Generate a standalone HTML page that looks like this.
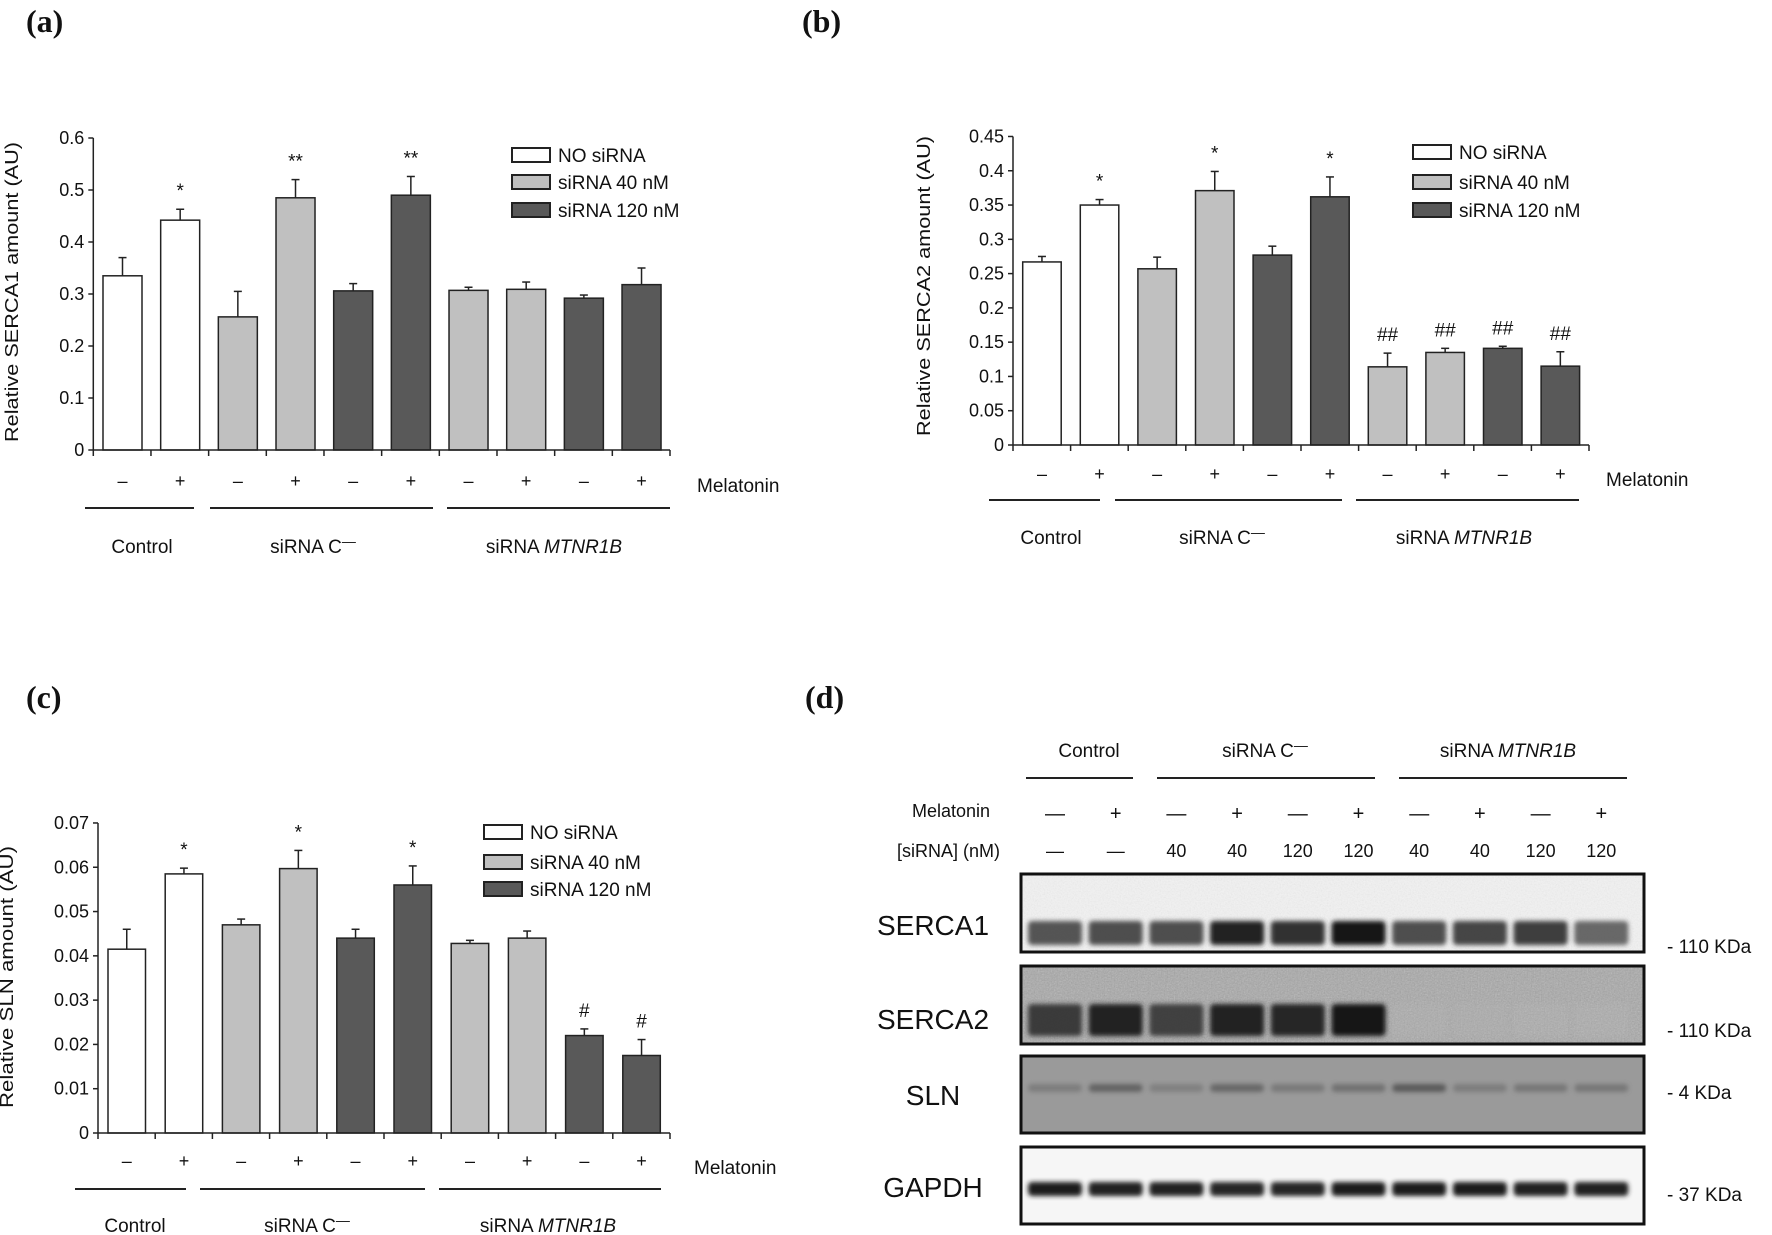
<!DOCTYPE html>
<html><head><meta charset="utf-8"><style>
html,body{margin:0;padding:0;background:#fff;}
svg{display:block;}
text{font-family:"Liberation Sans",sans-serif;fill:#111;}
.lbl{font-family:"Liberation Serif",serif;font-weight:bold;font-size:32px;}
</style></head><body>
<svg id="fig" width="1772" height="1235" viewBox="0 0 1772 1235" xmlns="http://www.w3.org/2000/svg">
<defs>
<filter id="blur2" x="-20%" y="-60%" width="140%" height="220%"><feGaussianBlur stdDeviation="2.5"/></filter>
<filter id="noise" x="0" y="0" width="100%" height="100%"><feTurbulence type="fractalNoise" baseFrequency="0.7" numOctaves="2" seed="3"/><feColorMatrix type="saturate" values="0"/><feComponentTransfer><feFuncA type="linear" slope="0.6"/></feComponentTransfer></filter>
</defs>
<g id="root"></g>
</svg>
<script>
// ---------- data ----------
const melatonin = ['–','+','–','+','–','+','–','+','–','+'];
const seriesIdxAC = [0,0,1,1,2,2,1,1,2,2];
const legendLabels = ['NO siRNA','siRNA 40 nM','siRNA 120 nM'];
const groupLabels = ['Control','siRNA C','siRNA '];
const valuesA = [0.335,0.442,0.256,0.485,0.306,0.490,0.307,0.309,0.292,0.318];
const errA    = [0.035,0.021,0.049,0.035,0.014,0.036,0.006,0.014,0.006,0.032];
const annotA  = ['','*','','**','','**','','','',''];
const ticksA  = ['0','0.1','0.2','0.3','0.4','0.5','0.6'];
const valuesB = [0.267,0.350,0.257,0.371,0.277,0.362,0.114,0.135,0.141,0.115];
const errB    = [0.008,0.008,0.017,0.028,0.013,0.029,0.020,0.006,0.003,0.021];
const annotB  = ['','*','','*','','*','##','##','##','##'];
const ticksB  = ['0','0.05','0.1','0.15','0.2','0.25','0.3','0.35','0.4','0.45'];
const valuesC = [0.0415,0.0585,0.0470,0.0597,0.0440,0.0560,0.0428,0.0440,0.0220,0.0175];
const errC    = [0.0045,0.0013,0.0013,0.0041,0.0020,0.0043,0.0007,0.0016,0.0015,0.0036];
const annotC  = ['','*','','*','','*','','','#','#'];
const ticksC  = ['0','0.01','0.02','0.03','0.04','0.05','0.06','0.07'];
const blotRows = ['SERCA1','SERCA2','SLN','GAPDH'];
const blotKDa = ['- 110 KDa','- 110 KDa','- 4 KDa','- 37 KDa'];
const laneMel = ['—','+','—','+','—','+','—','+','—','+'];
const laneSi  = ['—','—','40','40','120','120','40','40','120','120'];
const bandSERCA1 = [0.78,0.80,0.80,0.95,0.88,1.00,0.80,0.82,0.85,0.72];
const bandSERCA2 = [0.85,0.95,0.82,0.95,0.92,1.00,0.12,0.14,0.10,0.10];
const bandSLN    = [0.35,0.55,0.32,0.52,0.38,0.45,0.60,0.35,0.40,0.40];
const bandGAPDH  = [0.97,0.95,0.95,0.93,0.93,0.97,0.97,0.97,0.95,0.95];

const fills = ['#ffffff','#c0c0c0','#595959'];
const NS='http://www.w3.org/2000/svg';
const root=document.getElementById('root');
function mk(tag,attrs,parent,txt){const e=document.createElementNS(NS,tag);for(const k in attrs)e.setAttribute(k,attrs[k]);if(txt!==undefined)e.textContent=txt;(parent||root).appendChild(e);return e;}
function groupText(t,k){
  if(k===1){mk('tspan',{'font-size':14,dy:-7},t,'\u2014');}
  if(k===2){mk('tspan',{'font-style':'italic'},t,'MTNR1B');}
}

function panel(cfg,values,errs,annots,ticks,sIdx){
  const g=mk('g',{});
  
  
  const n=values.length, gw=(cfg.x1-cfg.x0)/n;
  const y=v=>cfg.y0-v*cfg.scale;
  const xs=i=>cfg.x0+i*gw;
  const ya=mk('line',{x1:cfg.x0,y1:cfg.y0,x2:cfg.x0,y2:y(cfg.ymax),stroke:'#222','stroke-width':1.5},g);
  
  
  ticks.forEach((t,i)=>{const v=i*cfg.step;
    mk('line',{x1:cfg.x0-5,y1:y(v),x2:cfg.x0,y2:y(v),stroke:'#222','stroke-width':1.5},g);
    const tl=mk('text',{x:cfg.x0-9,y:y(v)+6,'text-anchor':'end','font-size':18},g,t);
    
    
  });
  const yt=mk('text',{x:0,y:0,'text-anchor':'middle','font-size':18,transform:`translate(${cfg.ylx},${cfg.yly}) rotate(-90)`,textLength:cfg.ylw,lengthAdjust:'spacingAndGlyphs'},g,cfg.ylabel);
  
  
  values.forEach((v,i)=>{
    const bx=xs(i)+cfg.off, bw=cfg.bw, top=y(v), et=y(v+errs[i]), cx=bx+bw/2;
    mk('line',{x1:cx,y1:top,x2:cx,y2:et,stroke:'#222','stroke-width':1.5},g);
    mk('line',{x1:cx-4,y1:et,x2:cx+4,y2:et,stroke:'#222','stroke-width':1.5},g);
    const r=mk('rect',{x:bx,y:top,width:bw,height:cfg.y0-top,fill:fills[sIdx[i]],stroke:'#222','stroke-width':1.5},g);
    
    
    if(annots[i]){const a=mk('text',{x:cx,y:et-12,'text-anchor':'middle','font-size':19},g,annots[i]);
      
      }
    const s=mk('text',{x:cx,y:cfg.sy,'text-anchor':'middle','font-size':18},g,melatonin[i]);
    
    
  });
  const xa=mk('line',{x1:cfg.x0,y1:cfg.y0,x2:cfg.x1,y2:cfg.y0,stroke:'#222','stroke-width':1.5},g);
  
  
  for(let i=0;i<=n;i++) mk('line',{x1:xs(i),y1:cfg.y0,x2:xs(i),y2:cfg.y0+6,stroke:'#222','stroke-width':1.5},g);
  const ml=mk('text',{x:cfg.mx,y:cfg.my,'font-size':19},g,'Melatonin');
  
  
  cfg.lines.forEach((ln,k)=>{
    mk('line',{x1:ln[0],y1:cfg.ly,x2:ln[1],y2:cfg.ly,stroke:'#222','stroke-width':2},g);
    const t=mk('text',{x:cfg.gx[k],y:cfg.gy,'text-anchor':'middle','font-size':19},g,groupLabels[k]);
    groupText(t,k);
    
    
  });
  legendLabels.forEach((l,k)=>{
    const lg=mk('g',{},g);
    
    
    mk('rect',{x:cfg.lgx,y:cfg.lgy[k]-7,width:38,height:14,fill:fills[k],stroke:'#222','stroke-width':2},lg);
    mk('text',{x:cfg.lgx+46,y:cfg.lgy[k]+7,'font-size':19},lg,l);
  });
  const pl=mk('text',{x:cfg.px,y:cfg.py,class:'lbl'},g,cfg.plabel);
  
  
}

panel({name:'chart-serca1',x0:93.3,x1:670,y0:450,scale:520,ymax:0.6,step:0.1,off:9.7,bw:39,
  ylabel:'Relative SERCA1 amount (AU)',ylx:18,yly:292,ylw:300,sy:487,mx:697,my:492,ly:508,
  lines:[[85,194],[210,433],[447,670]],gx:[142,313,554],gy:553,lgx:512,px:26,py:32,plabel:'(a)',
  lgy:[155,182,210]},valuesA,errA,annotA,ticksA,seriesIdxAC);
panel({name:'chart-serca2',x0:1013,x1:1589,y0:445,scale:685.6,ymax:0.45,step:0.05,off:9.7,bw:38.5,
  ylabel:'Relative SERCA2 amount (AU)',ylx:930,yly:286,ylw:300,sy:480,mx:1606,my:486,ly:500,
  lines:[[989,1100],[1115,1342],[1356,1579]],gx:[1051,1222,1464],gy:544,lgx:1413,lgy:[152,182,210],px:802,py:32,plabel:'(b)'},
  valuesB,errB,annotB,ticksB,seriesIdxAC);
panel({name:'chart-sln',x0:98,x1:670,y0:1133,scale:4429,ymax:0.07,step:0.01,off:10,bw:37.5,
  ylabel:'Relative SLN amount (AU)',ylx:13,yly:977,ylw:262,sy:1167,mx:694,my:1174,ly:1189,
  lines:[[75,186],[200,425],[439,661]],gx:[135,307,548],gy:1232,lgx:484,lgy:[832,862,889],px:26,py:708,plabel:'(c)'},
  valuesC,errC,annotC,ticksC,seriesIdxAC);

(function(){
  const g=mk('g',{});
  
  
  const pl=mk('text',{x:805,y:708,class:'lbl'},g,'(d)');
  
  
  const laneX=i=>1055+i*60.7;
  const heads=[[1089,'Control',[1026,1133]],[1265,'siRNA C',[1157,1375]],[1508,'siRNA ',[1399,1627]]];
  heads.forEach((h,k)=>{const t=mk('text',{x:h[0],y:757,'text-anchor':'middle','font-size':19},g,h[1]);
    groupText(t,k);
    
    
    mk('line',{x1:h[2][0],y1:778,x2:h[2][1],y2:778,stroke:'#222','stroke-width':2},g);});
  const m=mk('text',{x:990,y:817,'text-anchor':'end','font-size':18},g,'Melatonin');
  
  
  const s=mk('text',{x:1000,y:857,'text-anchor':'end','font-size':18},g,'[siRNA] (nM)');
  
  
  laneMel.forEach((v,i)=>{mk('text',{x:laneX(i),y:820,'text-anchor':'middle','font-size':20},g,v);
    mk('text',{x:laneX(i),y:857,'text-anchor':'middle','font-size':18},g,laneSi[i]);});
  const blots=[{y:874,h:78,bg:'#f2f2f2',by:933,bh:24,data:bandSERCA1,noise:true,op:0.3},
               {y:966,h:78,bg:'#a8a8a8',by:1020,bh:32,data:bandSERCA2,noise:true,op:0.8},
               {y:1056,h:77,bg:'#9a9a9a',by:1088,bh:8,data:bandSLN,noise:false},
               {y:1147,h:77,bg:'#f6f6f6',by:1189,bh:14,data:bandGAPDH,noise:false}];
  const ly=[925,1019,1095,1187], ky=[946,1030,1092,1194];
  blots.forEach((b,k)=>{
    const bg=mk('g',{},g);
    
    
    mk('rect',{x:1021,y:b.y,width:623,height:b.h,fill:b.bg},bg);
    if(b.noise) mk('rect',{x:1021,y:b.y,width:623,height:b.h,filter:'url(#noise)',opacity:b.op},bg);
    b.data.forEach((v,i)=>{
      const shade=Math.round(25+(1-v)*(k===2?100:180));
      mk('rect',{x:laneX(i)-27,y:b.by-b.bh/2,width:54,height:b.bh,rx:4,fill:`rgb(${shade},${shade},${shade})`,opacity:Math.min(1,v+0.1),filter:'url(#blur2)'},bg);
    });
    mk('rect',{x:1021,y:b.y,width:623,height:b.h,fill:'none',stroke:'#111','stroke-width':3},bg);
    const t=mk('text',{x:933,y:ly[k]+10,'text-anchor':'middle','font-size':28},g,blotRows[k]);
    
    
    const kd=mk('text',{x:1667,y:ky[k]+7,'font-size':19},g,blotKDa[k]);
    
    
  });
})();
</script>
</body></html>
